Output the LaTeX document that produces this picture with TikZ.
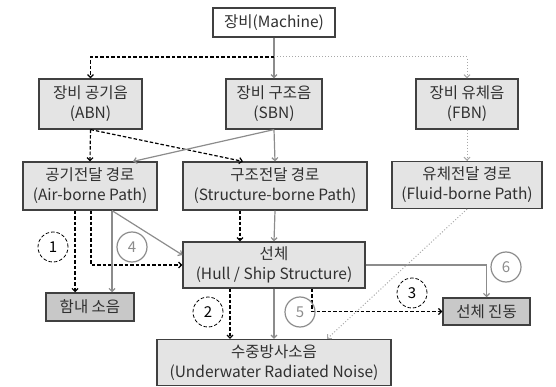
\documentclass[tikz,border=0pt]{standalone}
\usepackage{fontspec}
\setmainfont{Noto Sans CJK KR}
\usetikzlibrary{arrows.meta}
\definecolor{boxline}{HTML}{404040}
\definecolor{boxfill}{HTML}{E4E4E4}
\definecolor{endfill}{HTML}{C8C8C8}
\definecolor{pathgray}{HTML}{8C8C8C}
\definecolor{fluidgray}{HTML}{A8A8A8}
\definecolor{boxtext}{HTML}{303030}
\begin{document}
\begin{tikzpicture}[x=1pt,y=-1pt,
		box/.style={draw=boxline,fill=boxfill,line width=1.2pt,inner sep=0pt,align=center,
			text=boxtext,font=\fontsize{15.5}{20}\selectfont},
		endbox/.style={box,fill=endfill,line width=1.5pt},
		num/.style={circle,draw,minimum size=30pt,inner sep=0pt,font=\fontsize{15}{15}\selectfont},
		air/.style={black,dashed,dash pattern=on 3.5pt off 2pt,line width=1.2pt},
		solid gray/.style={pathgray,line width=1.2pt},
		fluid/.style={fluidgray,dotted,line width=1pt},
		>={Straight Barb[length=3pt,width=6pt]}]
	\useasboundingbox (0,0) rectangle (556,387);
	\node[box,fill=white,minimum width=122pt,minimum height=29pt] (machine) at (274,22.5) {장비(Machine)};
	\node[box,minimum width=103pt,minimum height=50pt] (abn) at (90.5,104) {장비 공기음\\(ABN)};
	\node[box,minimum width=96pt,minimum height=50pt] (sbn) at (274,104) {장비 구조음\\(SBN)};
	\node[box,minimum width=102pt,minimum height=50pt] (fbn) at (467,104) {장비 유체음\\(FBN)};
	\node[box,minimum width=134pt,minimum height=48pt] (airpath) at (90,186) {공기전달 경로\\(Air-borne Path)};
	\node[box,minimum width=184pt,minimum height=48pt] (structpath) at (275,186) {구조전달 경로\\(Structure-borne Path)};
	\node[box,minimum width=150pt,minimum height=47pt] (fluidpath) at (467,185) {유체전달 경로\\(Fluid-borne Path)};
	\node[box,minimum width=182pt,minimum height=46pt] (hull) at (274,265) {선체\\(Hull / Ship Structure)};
	\node[endbox,minimum width=88pt,minimum height=28pt] (cabin) at (90,307) {함내 소음};
	\node[endbox,minimum width=87pt,minimum height=27pt] (vib) at (486.5,311.5) {선체 진동};
	\node[box,minimum width=234pt,minimum height=46pt] (urn) at (274,362.5) {수중방사소음\\(Underwater Radiated Noise)};
	\coordinate (split) at (274,57);
	\draw[solid gray,->] (machine.south) -- (sbn.north);
	\draw[air,->] (split) -| (abn.north);
	\draw[fluid,->] (split) -| (fbn.north);
	\draw[air,->] (abn.south) -- (airpath.north);
	\draw[air,->] (abn.south) -- ([xshift=-32pt]structpath.north);
	\draw[solid gray,->] (sbn.south) -- (structpath.north);
	\draw[solid gray,->] (sbn.south) -- ([xshift=43pt]airpath.north);
	\draw[fluid,->] (fbn.south) -- (fluidpath.north);
	\draw[air,->] ([xshift=-15pt]airpath.south) -- ([xshift=-15pt]cabin.north);
	\draw[air,->] ([xshift=1pt]airpath.south) |- (hull.west);
	\draw[solid gray,->] ([xshift=22pt]airpath.south) -- ([xshift=22pt]cabin.north);
	\draw[solid gray,->] ([xshift=22pt]airpath.south) -- ([yshift=10pt]hull.west);
	\draw[air,->] ([xshift=-35pt]structpath.south) -- ([xshift=-34pt]hull.north);
	\draw[solid gray,->] (structpath.south) -- (hull.north);
	\draw[air,->] ([xshift=-44pt]hull.south) -- ([xshift=-44pt]urn.north);
	\draw[solid gray,->] (hull.south) -- (urn.north);
	\draw[air,->] ([xshift=38pt]hull.south) |- (vib.west);
	\draw[solid gray,->] (hull.east) -| (vib.north);
	\draw[fluid,->] (fluidpath.south) -- ([xshift=53pt]urn.north);
	\node[num,air,line width=0.8pt] (n1) at (53,247) {1};
	\node[num,solid gray] (n4) at (132,247) {4};
	\node[num,air,line width=0.8pt] (n2) at (208,312) {2};
	\node[num,solid gray] (n5) at (300,312) {5};
	\node[num,air,line width=0.8pt] (n3) at (412,293) {3};
	\node[num,solid gray] (n6) at (506,267) {6};
\end{tikzpicture}
\end{document}
